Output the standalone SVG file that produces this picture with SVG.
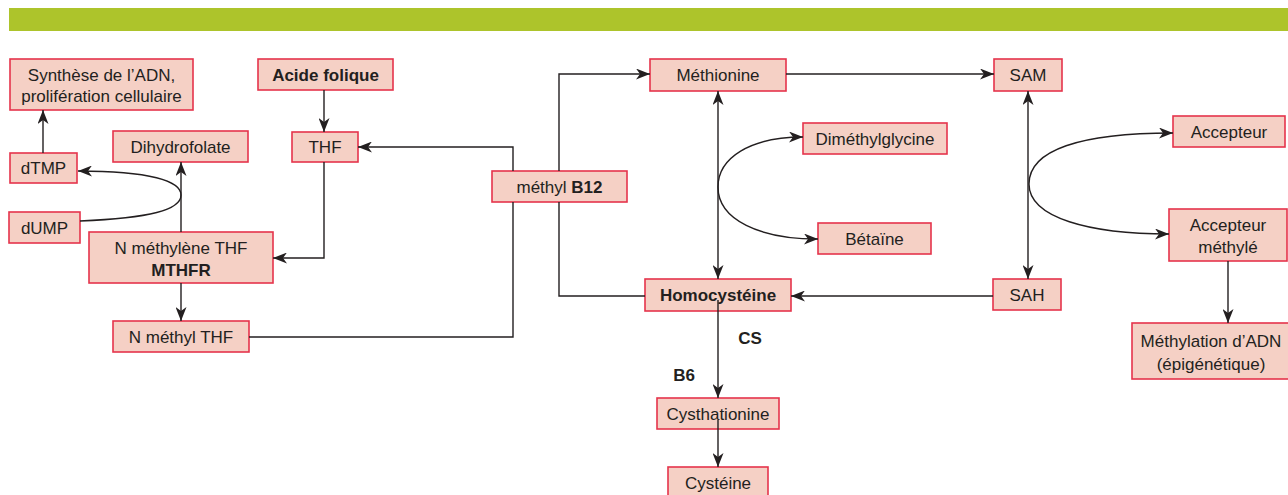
<svg xmlns="http://www.w3.org/2000/svg" width="1288" height="495" viewBox="0 0 1288 495">
<defs>
<marker id="arr" viewBox="0 0 14 11" refX="14" refY="5.5" markerWidth="14" markerHeight="11" markerUnits="userSpaceOnUse" orient="auto-start-reverse">
<path d="M0,0 L14,5.5 L0,11 L4,5.5 z" fill="#231f20"/>
</marker>
</defs>
<style>
.box{fill:#f5d0c5;stroke:#e5344b;stroke-width:1.6}
text{font-family:"Liberation Sans",Arial,sans-serif;font-size:17px;fill:#231f20;text-anchor:middle}
.b{font-weight:bold}
.c{fill:none;stroke:#231f20;stroke-width:1.4}
.a{marker-end:url(#arr)}
.d{marker-start:url(#arr);marker-end:url(#arr)}
</style>
<rect x="9" y="8" width="1279" height="23" fill="#adc42b"/>

<g id="n-synthese"><rect class="box" x="10" y="59" width="183" height="51"/><text x="101.5" y="81">Synthèse de l’ADN,</text><text x="101.5" y="102">prolifération cellulaire</text></g>
<g id="n-acide"><rect class="box" x="258" y="59" width="135" height="31"/><text class="b" x="325.5" y="81">Acide folique</text></g>
<g id="n-thf"><rect class="box" x="292" y="132" width="66" height="30"/><text x="325" y="153">THF</text></g>
<g id="n-dihydro"><rect class="box" x="113" y="131" width="135" height="31"/><text x="180.5" y="153">Dihydrofolate</text></g>
<g id="n-dtmp"><rect class="box" x="10" y="153" width="67" height="30"/><text x="43.5" y="174">dTMP</text></g>
<g id="n-dump"><rect class="box" x="9" y="212" width="71" height="31"/><text x="44.5" y="234">dUMP</text></g>
<g id="n-methylene"><rect class="box" x="89" y="232" width="184" height="51"/><text x="181" y="254">N méthylène THF</text><text class="b" x="181" y="276">MTHFR</text></g>
<g id="n-methylthf"><rect class="box" x="113" y="321" width="136" height="31"/><text x="181" y="343">N méthyl THF</text></g>
<g id="n-b12"><rect class="box" x="492" y="171" width="135" height="31"/><text x="559.5" y="193">méthyl <tspan class="b">B12</tspan></text></g>
<g id="n-methionine"><rect class="box" x="650" y="59" width="136" height="32"/><text x="718" y="81">Méthionine</text></g>
<g id="n-dimethyl"><rect class="box" x="803" y="123" width="144" height="31"/><text x="875" y="145">Diméthylglycine</text></g>
<g id="n-betaine"><rect class="box" x="818" y="223" width="113" height="31"/><text x="874.5" y="245">Bétaïne</text></g>
<g id="n-homocys"><rect class="box" x="645" y="279" width="146" height="32"/><text class="b" x="718" y="301">Homocystéine</text></g>
<g id="n-sam"><rect class="box" x="994" y="59" width="68" height="32"/><text x="1028" y="81">SAM</text></g>
<g id="n-sah"><rect class="box" x="993" y="279" width="68" height="31"/><text x="1027" y="301">SAH</text></g>
<g id="n-accepteur"><rect class="box" x="1173" y="116" width="112" height="31"/><text x="1229" y="138">Accepteur</text></g>
<g id="n-accmeth"><rect class="box" x="1169" y="209" width="118" height="52"/><text x="1228" y="231">Accepteur</text><text x="1228" y="253">méthylé</text></g>
<g id="n-methylation"><rect class="box" x="1132" y="323" width="158" height="56"/><text x="1211" y="347">Méthylation d’ADN</text><text x="1211" y="370">(épigénétique)</text></g>
<g id="n-cysthionine"><rect class="box" x="657" y="398" width="122" height="31"/><text x="718" y="420">Cysthationine</text></g>
<g id="n-cysteine"><rect class="box" x="668" y="467" width="100" height="30"/><text x="718" y="489">Cystéine</text></g>

<g id="labels"><text class="b" x="750" y="344">CS</text><text class="b" x="684" y="381">B6</text></g>

<g id="connectors">
<path class="c a" d="M324,90 V132"/>
<path class="c a" d="M43,153 V110"/>
<path class="c a" d="M80,221 C150,218 181,210 181,195 C181,181 150,171 78,171"/>
<path class="c a" d="M181,232 V162"/>
<path class="c a" d="M324,162 V258 H273"/>
<path class="c a" d="M181,283 V321"/>
<path class="c" d="M249,337 H513 V202"/>
<path class="c a" d="M513,171 V147 H358"/>
<path class="c" d="M645,296 H559 V202"/>
<path class="c a" d="M559,171 V74 H650"/>
<path class="c d" d="M718,91 V279"/>
<path class="c a" d="M718,187 C718,158 750,137 803,137"/>
<path class="c a" d="M718,187 C718,220 760,239 818,239"/>
<path class="c a" d="M786,74 H994"/>
<path class="c d" d="M1028,91 V279"/>
<path class="c a" d="M1029,184 C1029,150 1080,133 1173,133"/>
<path class="c a" d="M1029,184 C1029,218 1090,234 1169,234"/>
<path class="c a" d="M993,296 H791"/>
<path class="c a" d="M1228,261 V323"/>
<path class="c a" d="M718,300 V398"/>
<path class="c a" d="M718,420 V467"/>
</g>
</svg>
